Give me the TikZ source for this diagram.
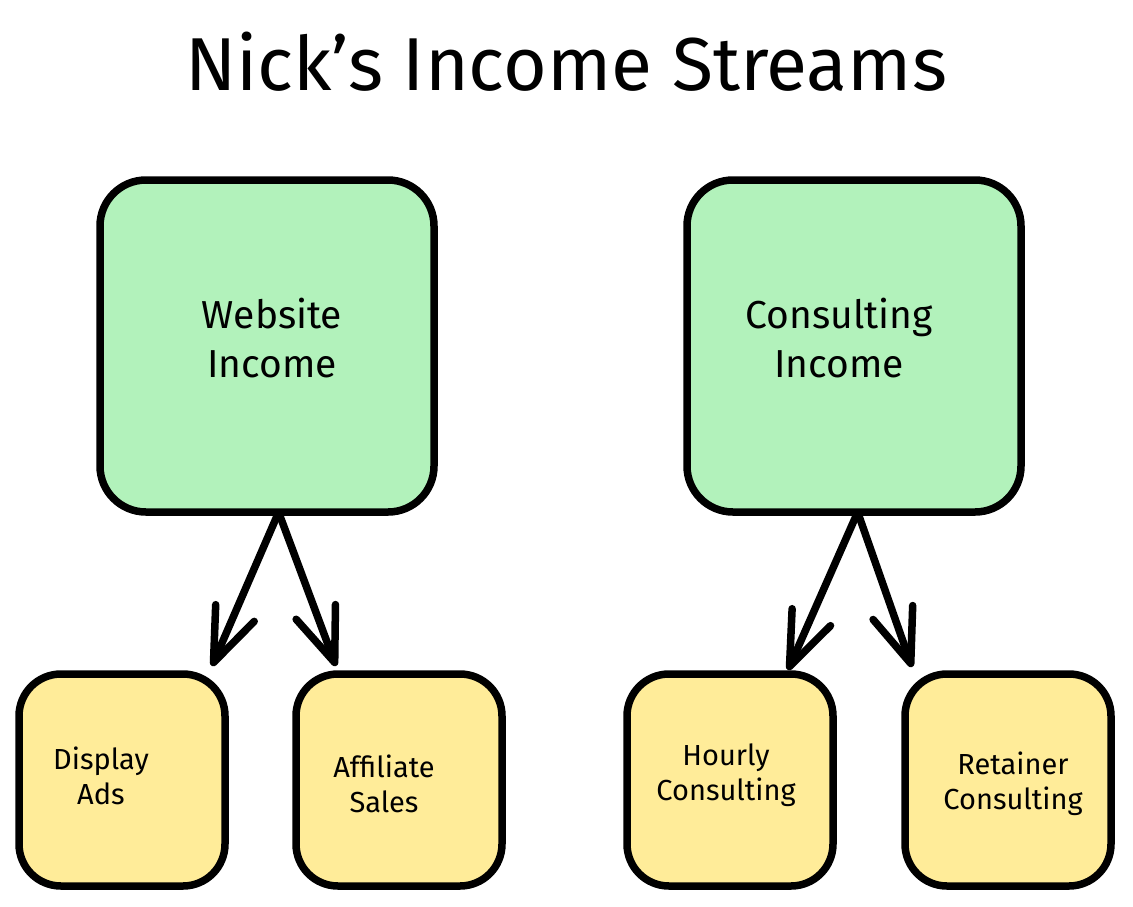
\documentclass[tikz,border=0pt]{standalone}
\usepackage{fontspec}
\setmainfont{Fira Sans}
\usetikzlibrary{arrows.meta}
\definecolor{boxgreen}{HTML}{B2F2BB}
\definecolor{boxyellow}{HTML}{FFEC99}
\tikzset{
  card/.style={draw=black, line width=7.5pt, rounded corners=46pt, inner sep=0pt},
  bigcard/.style={card, fill=boxgreen, minimum width=334pt, minimum height=332pt},
  smallcard/.style={card, fill=boxyellow, minimum width=206pt, minimum height=212pt, rounded corners=42pt},
  bigtext/.style={font=\fontsize{39}{49}\selectfont, align=center},
  smalltext/.style={font=\fontsize{29}{35}\selectfont, align=center},
  flow/.style={line width=7.5pt, line cap=round, -{Straight Barb[length=54pt,width=42pt,round]}},
}
\begin{document}
\begin{tikzpicture}[x=1pt,y=-1pt]
\useasboundingbox (0,0) rectangle (1133,906);
\fill[white] (0,0) rectangle (1133,906);
\node[font=\fontsize{75}{80}\selectfont] (title) at (566,62) {Nick's Income Streams};

\node[bigcard] (web) at (267,346) {};
\node[bigcard] (cons) at (854,346) {};
\node[smallcard] (ads) at (122,780) {};
\node[smallcard] (aff) at (399,780) {};
\node[smallcard] (hour) at (730,780) {};
\node[smallcard] (ret) at (1008,780) {};

\node[bigtext] (webt) at (272,338) {Website\\Income};
\node[bigtext] (const) at (839,338) {Consulting\\Income};
\node[smalltext] (adst) at (101,776) {Display\\Ads};
\node[smalltext] (afft) at (384,784) {Affiliate\\Sales};
\node[smalltext] (hourt) at (726,775) {Hourly\\Consulting};
\node[smalltext] (rett) at (1013,784) {Retainer\\Consulting};

\coordinate (w1) at (277,516);
\coordinate (w2) at (280,516);
\coordinate (c1) at (856,516);
\coordinate (c2) at (859,516);
\coordinate (a1) at (212,666);
\coordinate (a2) at (336,666);
\coordinate (a3) at (788,670);
\coordinate (a4) at (912,667);
\draw[flow] (w1) -- (a1);
\draw[flow] (w2) -- (a2);
\draw[flow] (c1) -- (a3);
\draw[flow] (c2) -- (a4);
\end{tikzpicture}
\end{document}
